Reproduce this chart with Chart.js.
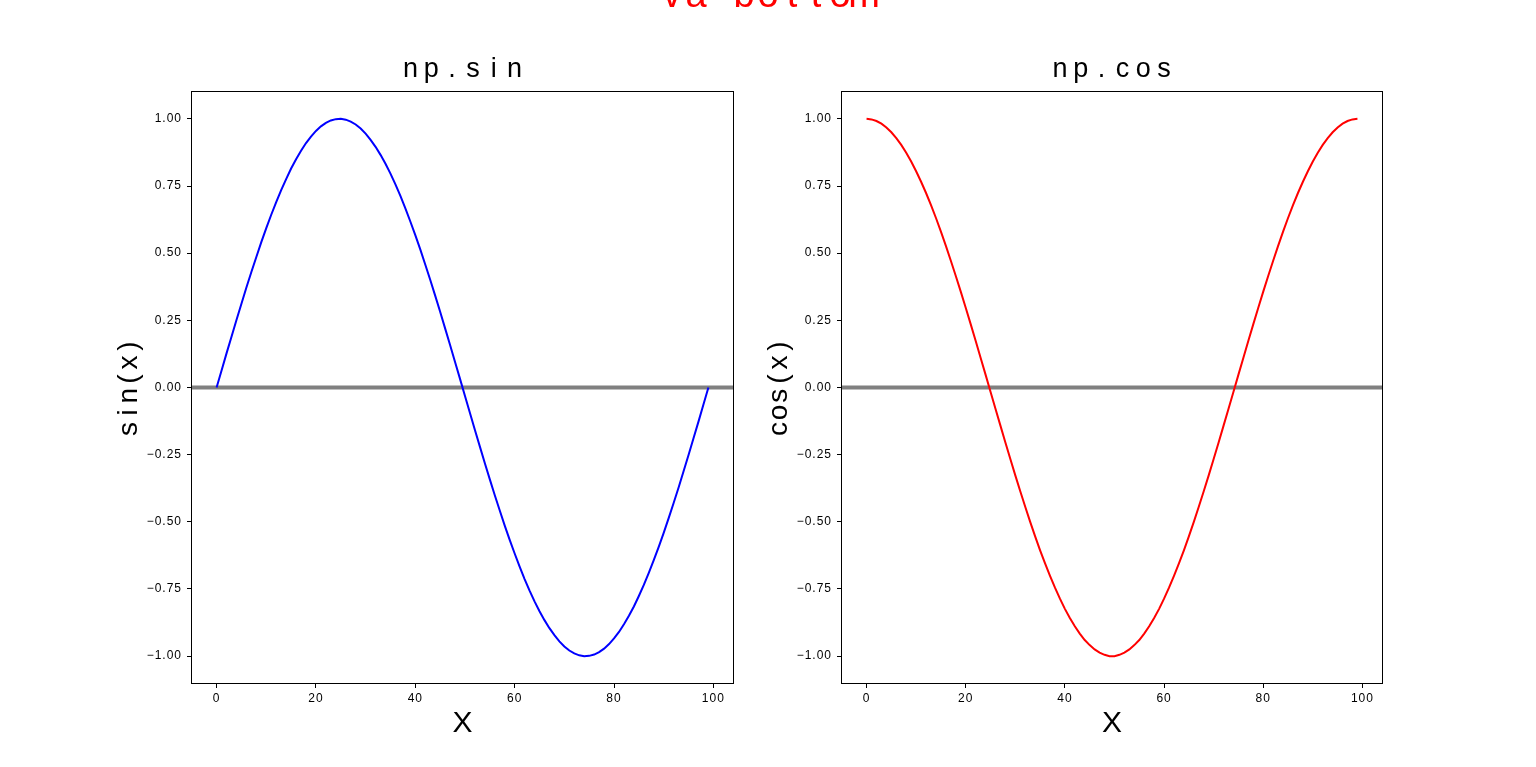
<!DOCTYPE html>
<html lang="en">
<head>
    <meta charset="UTF-8">
    <title>np.sin / np.cos</title>
    <script src="https://cdn.jsdelivr.net/npm/chart.js"></script>
    <style>
        html, body { margin: 0; padding: 0; background: #fff; overflow: hidden; }
        canvas { position: absolute; left: 0; top: 0; }
    </style>
</head>
<body>
    <canvas id="sinChart" width="1536" height="767"></canvas>
    <canvas id="cosChart" width="1536" height="767"></canvas>
    <script>
        // values, one sample per x = 0..99
        const xValues = [0, 1, 2, 3, 4, 5, 6, 7, 8, 9, 10, 11, 12, 13, 14, 15, 16, 17, 18, 19,
                         20, 21, 22, 23, 24, 25, 26, 27, 28, 29, 30, 31, 32, 33, 34, 35, 36, 37, 38, 39,
                         40, 41, 42, 43, 44, 45, 46, 47, 48, 49, 50, 51, 52, 53, 54, 55, 56, 57, 58, 59,
                         60, 61, 62, 63, 64, 65, 66, 67, 68, 69, 70, 71, 72, 73, 74, 75, 76, 77, 78, 79,
                         80, 81, 82, 83, 84, 85, 86, 87, 88, 89, 90, 91, 92, 93, 94, 95, 96, 97, 98, 99];
        const sinValues = [0, 0.063, 0.127, 0.189, 0.251, 0.312, 0.372, 0.430, 0.486, 0.541,
                           0.593, 0.643, 0.690, 0.735, 0.776, 0.815, 0.850, 0.881, 0.910, 0.934,
                           0.955, 0.972, 0.985, 0.994, 0.999, 1.000, 0.997, 0.990, 0.979, 0.964,
                           0.945, 0.922, 0.896, 0.866, 0.833, 0.796, 0.756, 0.713, 0.667, 0.618,
                           0.567, 0.514, 0.458, 0.401, 0.342, 0.282, 0.220, 0.158, 0.095, 0.032,
                           -0.032, -0.095, -0.158, -0.220, -0.282, -0.342, -0.401, -0.458, -0.514, -0.567,
                           -0.618, -0.667, -0.713, -0.756, -0.796, -0.833, -0.866, -0.896, -0.922, -0.945,
                           -0.964, -0.979, -0.990, -0.997, -1.000, -0.999, -0.994, -0.985, -0.972, -0.955,
                           -0.934, -0.910, -0.881, -0.850, -0.815, -0.776, -0.735, -0.690, -0.643, -0.593,
                           -0.541, -0.486, -0.430, -0.372, -0.312, -0.251, -0.189, -0.127, -0.063, 0];
        const cosValues = [1, 0.998, 0.992, 0.982, 0.968, 0.950, 0.928, 0.903, 0.874, 0.841,
                           0.805, 0.766, 0.724, 0.679, 0.631, 0.580, 0.527, 0.472, 0.415, 0.357,
                           0.297, 0.236, 0.174, 0.111, 0.048, -0.016, -0.079, -0.142, -0.205, -0.266,
                           -0.327, -0.386, -0.444, -0.500, -0.554, -0.606, -0.655, -0.701, -0.745, -0.786,
                           -0.824, -0.858, -0.889, -0.916, -0.940, -0.959, -0.975, -0.987, -0.995, -1.000,
                           -1.000, -0.995, -0.987, -0.975, -0.959, -0.940, -0.916, -0.889, -0.858, -0.824,
                           -0.786, -0.745, -0.701, -0.655, -0.606, -0.554, -0.500, -0.444, -0.386, -0.327,
                           -0.266, -0.205, -0.142, -0.079, -0.016, 0.048, 0.111, 0.174, 0.236, 0.297,
                           0.357, 0.415, 0.472, 0.527, 0.580, 0.631, 0.679, 0.724, 0.766, 0.805,
                           0.841, 0.874, 0.903, 0.928, 0.950, 0.968, 0.982, 0.992, 0.998, 1];
        const xTicks = [0, 20, 40, 60, 80, 100];
        const yTicks = [-1, -0.75, -0.5, -0.25, 0, 0.25, 0.5, 0.75, 1];
        const xRange = [-4.95, 103.95];
        const yRange = [-1.1, 1.1];

        const font = '"Liberation Sans", Arial, sans-serif';

        // draw text with a fixed cell per character (the original font is half-width monospaced)
        function spacedText(ctx, text, cx, y, cell) {
            const chars = [...text];
            const x0 = cx - chars.length * cell / 2;
            ctx.textAlign = 'center';
            chars.forEach((ch, i) => ctx.fillText(ch, x0 + cell * (i + 0.5), y));
        }

        const figText = {
            id: 'figText',
            beforeDraw(chart) {
                // a little spacing for the tick labels
                chart.ctx.letterSpacing = '1px';
            },
            afterDraw(chart, args, opts) {
                const ctx = chart.ctx;
                const a = chart.chartArea;
                const cx = (a.left + a.right) / 2;
                const cy = (a.top + a.bottom) / 2;
                ctx.letterSpacing = '0px';
                ctx.save();
                // axes frame
                ctx.strokeStyle = '#000';
                ctx.lineWidth = 1;
                ctx.strokeRect(a.left - 0.5, a.top - 0.5, a.right - a.left + 1, a.bottom - a.top + 1);

                ctx.fillStyle = '#000';
                ctx.textBaseline = 'alphabetic';
                ctx.font = '27px ' + font;
                spacedText(ctx, opts.title, cx, a.top - 15, 20.8);

                ctx.font = '30px ' + font;
                spacedText(ctx, opts.xLabel, cx, a.bottom + 49, 16.6);

                ctx.save();
                ctx.translate(a.left - 55, cy);
                ctx.rotate(-Math.PI / 2);
                ctx.font = '28px ' + font;
                spacedText(ctx, opts.yLabel, 0, 0, 16.6);
                ctx.restore();

                if (opts.suptitle) {
                    ctx.fillStyle = '#ff0000';
                    ctx.font = '38px ' + font;
                    spacedText(ctx, opts.suptitle, chart.width / 2, 7, 24);
                }
                ctx.restore();
            }
        };

        function fmtY(v) {
            const s = Math.abs(v).toFixed(2);
            return v < 0 ? '\u2212' + s : s;
        }

        function makeChart(id, values, color, texts, left, right) {
            const tickFont = { family: font, size: 12 };
            return new Chart(document.getElementById(id), {
                type: 'line',
                data: {
                    datasets: [{
                        data: xValues.map((x, i) => ({ x: x, y: values[i] })),
                        borderColor: color,
                        borderWidth: 2,
                        pointRadius: 0,
                        tension: 0,
                        fill: false
                    }, {
                        // axhline(0)
                        data: [{ x: xRange[0], y: 0 }, { x: xRange[1], y: 0 }],
                        borderColor: '#808080',
                        borderWidth: 4,
                        pointRadius: 0,
                        fill: false
                    }]
                },
                options: {
                    responsive: false,
                    animation: false,
                    devicePixelRatio: 1,
                    layout: { padding: { left: left - 74, right: 1536 - right, top: 92, bottom: 0 } },
                    plugins: {
                        legend: { display: false },
                        tooltip: { enabled: false },
                        figText: texts
                    },
                    scales: {
                        x: {
                            type: 'linear',
                            min: xRange[0],
                            max: xRange[1],
                            afterBuildTicks: s => { s.ticks = xTicks.map(v => ({ value: v })); },
                            afterFit: s => { s.height = 84; },
                            ticks: {
                                font: tickFont, color: '#000', padding: 3,
                                autoSkip: false, maxRotation: 0,
                                callback: v => String(v)
                            },
                            grid: { drawOnChartArea: false, drawTicks: true, tickLength: 5, color: '#000' },
                            border: { display: false }
                        },
                        y: {
                            type: 'linear',
                            min: yRange[0],
                            max: yRange[1],
                            afterBuildTicks: s => { s.ticks = yTicks.map(v => ({ value: v })); },
                            afterFit: s => { s.width = 74; },
                            ticks: {
                                font: tickFont, color: '#000', padding: 5,
                                autoSkip: false,
                                callback: v => fmtY(v)
                            },
                            grid: { drawOnChartArea: false, drawTicks: true, tickLength: 5, color: '#000' },
                            border: { display: false }
                        }
                    }
                },
                plugins: [figText]
            });
        }

        makeChart('sinChart', sinValues, '#0000ff',
            { title: 'np.sin', xLabel: 'X', yLabel: 'sin(x)', suptitle: 'va bottom' }, 192, 733);
        makeChart('cosChart', cosValues, '#ff0000',
            { title: 'np.cos', xLabel: 'X', yLabel: 'cos(x)' }, 842, 1382);
    </script>
</body>
</html>
